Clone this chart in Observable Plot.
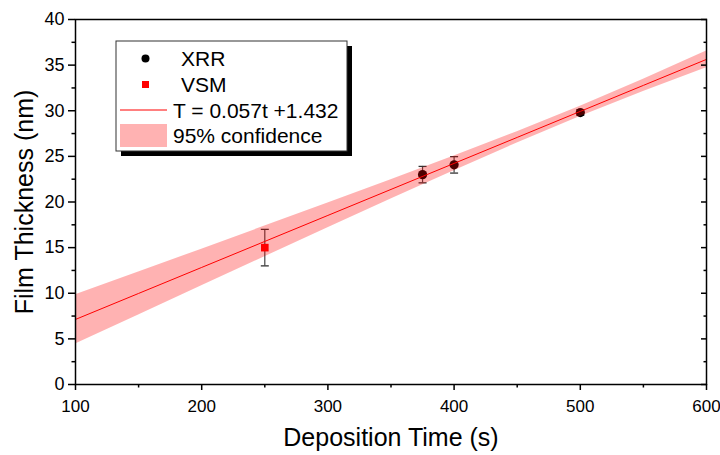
<!DOCTYPE html>
<html><head><meta charset="utf-8">
<script src="https://cdn.jsdelivr.net/npm/d3@7"></script>
<script src="https://cdn.jsdelivr.net/npm/@observablehq/plot@0.6"></script>
<style>body{margin:0;background:#fff;} svg{display:block;}</style>
</head><body><div id="chart"></div>
<script>
// XRR measurements
const xrrTime = [375, 400, 500];
const xrrThick = [23.0, 24.07, 29.8];
const xrrErr = [0.9, 0.9, 0.3];
// VSM measurement
const vsmTime = [250];
const vsmThick = [15.0];
const vsmErr = [2.0];
// Linear fit T = 0.057t + 1.432 and 95% confidence band
const fitTime = [100, 150, 200, 250, 300, 350, 400, 450, 500, 550, 600];
const fitThick = [7.13, 9.98, 12.83, 15.68, 18.53, 21.38, 24.23, 27.08, 29.93, 32.78, 35.63];
const bandLow  = [4.43, 7.63, 10.83, 14.00, 17.18, 20.33, 23.43, 26.46, 29.37, 32.12, 34.70];
const bandHigh = [9.83, 12.33, 14.83, 17.36, 19.88, 22.43, 25.03, 27.70, 30.49, 33.44, 36.56];
// ticks
const xTicks = [100, 200, 300, 400, 500, 600];
const xMinor = [150, 250, 350, 450, 550];
const yTicks = [0, 5, 10, 15, 20, 25, 30, 35, 40];
const yMinor = [2.5, 7.5, 12.5, 17.5, 22.5, 27.5, 32.5, 37.5];
const xLabel = "Deposition Time (s)";
const yLabel = "Film Thickness (nm)";
const legendLabels = ["XRR", "VSM", "T = 0.057t +1.432", "95% confidence"];

const xrr = xrrTime.map((t, i) => ({t, v: xrrThick[i], lo: xrrThick[i] - xrrErr[i], hi: xrrThick[i] + xrrErr[i]}));
const vsm = vsmTime.map((t, i) => ({t, v: vsmThick[i], lo: vsmThick[i] - vsmErr[i], hi: vsmThick[i] + vsmErr[i]}));
const fit = fitTime.map((t, i) => ({t, v: fitThick[i], lo: bandLow[i], hi: bandHigh[i]}));
const errs = xrr.concat(vsm);

const capSymbol = {draw(ctx) { ctx.moveTo(-4, 0); ctx.lineTo(4, 0); }};

const plot = Plot.plot({
  width: 720, height: 455,
  marginLeft: 75, marginRight: 14, marginTop: 19, marginBottom: 71,
  x: {domain: [100, 600]},
  y: {domain: [0, 40]},
  style: {fontFamily: "'Liberation Sans Narrow', 'Liberation Sans', Arial, sans-serif", fontSize: "18px", color: "black", background: "white"},
  marks: [
    Plot.ruleX(errs, {x: "t", y1: "lo", y2: "hi", stroke: "#444", strokeWidth: 1.2}),
    Plot.dot(errs, {x: "t", y: "lo", symbol: capSymbol, stroke: "#333", strokeWidth: 1.3, fill: "none"}),
    Plot.dot(errs, {x: "t", y: "hi", symbol: capSymbol, stroke: "#333", strokeWidth: 1.3, fill: "none"}),
    Plot.dot(xrr, {x: "t", y: "v", r: 4.6, fill: "black", stroke: "none"}),
    Plot.dot(vsm, {x: "t", y: "v", symbol: "square", r: 4.3, fill: "#ff0000", stroke: "none"}),
    Plot.areaY(fit, {x: "t", y1: "lo", y2: "hi", fill: "#ff0000", fillOpacity: 0.3}),
    Plot.line(fit, {x: "t", y: "v", stroke: "#ff0000", strokeWidth: 1}),
    Plot.axisX(xTicks, {tickSize: 6, tickPadding: 9, strokeWidth: 1.5, label: null, fontSize: 17}),
    Plot.axisX(xMinor, {tickSize: 3.5, strokeWidth: 1.5, fill: "none", label: null}),
    Plot.axisY(yTicks, {tickSize: 7, tickPadding: 4, strokeWidth: 1.5, label: null}),
    Plot.axisY(yMinor, {tickSize: 3.5, strokeWidth: 1.5, fill: "none", label: null}),
    Plot.axisY(yTicks, {anchor: "right", tickSize: -6, strokeWidth: 1.5, fill: "none", label: null}),
    Plot.axisY(yMinor, {anchor: "right", tickSize: -3.5, strokeWidth: 1.5, fill: "none", label: null}),
    Plot.frame({stroke: "black", strokeWidth: 1.5})
  ]
});

const svg = d3.select(plot);
const font = "'Liberation Sans', Arial, sans-serif";
// axis titles
svg.append("text").attr("x", 391).attr("y", 446).attr("text-anchor", "middle")
  .style("font-family", font).style("font-size", "25px").attr("fill", "black").text(xLabel);
svg.append("text").attr("transform", "translate(33,202) rotate(-90)").attr("text-anchor", "middle")
  .style("font-family", font).style("font-size", "25px").attr("fill", "black").text(yLabel);

// legend
const lg = svg.append("g").attr("text-anchor", "start").style("font-family", font).style("font-size", "21px").attr("fill", "black");
lg.append("rect").attr("x", 121).attr("y", 46).attr("width", 231).attr("height", 110).attr("fill", "black");
lg.append("rect").attr("x", 116).attr("y", 41).attr("width", 231).attr("height", 110).attr("fill", "white").attr("stroke", "#333").attr("stroke-width", 1);
lg.append("circle").attr("cx", 145.5).attr("cy", 58.5).attr("r", 4).attr("fill", "black");
lg.append("text").attr("x", 181).attr("y", 65.5).text(legendLabels[0]);
lg.append("rect").attr("x", 142).attr("y", 81).attr("width", 7).attr("height", 7).attr("fill", "#ff0000");
lg.append("text").attr("x", 181).attr("y", 91.5).text(legendLabels[1]);
lg.append("line").attr("x1", 120).attr("x2", 167).attr("y1", 110).attr("y2", 110).attr("stroke", "#ff0000").attr("stroke-width", 1);
lg.append("text").attr("x", 173).attr("y", 117.5).text(legendLabels[2]);
lg.append("rect").attr("x", 120).attr("y", 124).attr("width", 47).attr("height", 23).attr("fill", "#ff0000").attr("fill-opacity", 0.3);
lg.append("text").attr("x", 173).attr("y", 143).text(legendLabels[3]);

document.getElementById("chart").appendChild(plot);
</script>
</body></html>
